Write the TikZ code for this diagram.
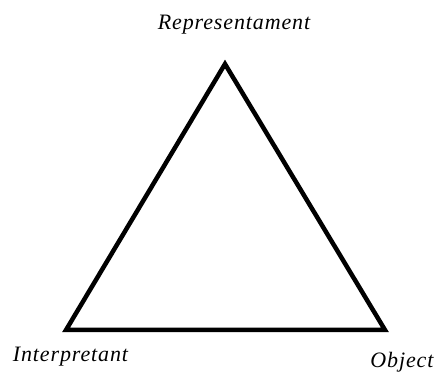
\documentclass[tikz,border=0pt]{standalone}
\usepackage{fontspec}
\setmainfont{Liberation Serif}[LetterSpace=4]
\usepackage{tikz}
\usetikzlibrary{positioning}
\tikzset{
  side/.style={line width=4.5pt,black,line join=miter},
  lbl/.style={font=\itshape\fontsize{22}{24}\selectfont,anchor=base,inner sep=0pt}
}
\begin{document}
\begin{tikzpicture}[x=1pt,y=-1pt]
\useasboundingbox (0,0) rectangle (437,374);
\coordinate (rep) at (225,64);
\coordinate (int) at (66,330);
\coordinate (obj) at (385,330);
\draw[side] (rep)--(obj)--(int)--cycle;
\node[lbl] (replbl) at (234,30) {Representament};
\node[lbl] (intlbl) at (70.5,362) {Interpretant};
\node[lbl] (objlbl) at (402,368) {Object};
\end{tikzpicture}
\end{document}
